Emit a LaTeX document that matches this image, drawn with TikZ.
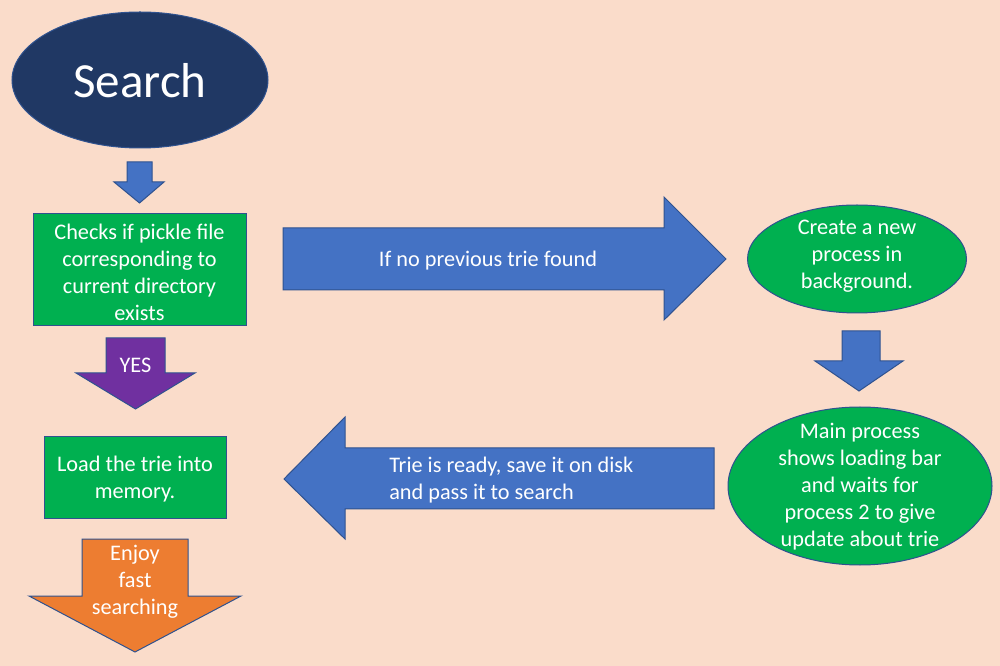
\documentclass[tikz,border=0pt]{standalone}
\usepackage{fontspec}
\setmainfont{Carlito}
\usetikzlibrary{shapes.geometric}
\definecolor{bgpeach}{HTML}{FADCCA}
\definecolor{navy}{HTML}{203864}
\definecolor{offblue}{HTML}{4472C4}
\definecolor{offgreen}{HTML}{00B050}
\definecolor{offpurple}{HTML}{7030A0}
\definecolor{offorange}{HTML}{ED7D31}
\definecolor{edgeblue}{HTML}{2F528F}
\begin{document}
\begin{tikzpicture}[x=0.75pt,y=-0.75pt,
  txt/.style={text=white,font=\fontsize{16.7}{20.3}\selectfont,align=center,inner sep=0pt},
  shapeline/.style={draw=edgeblue,line width=0.75pt},
  greenbox/.style={shapeline,fill=offgreen,rectangle,inner sep=0pt},
  greenell/.style={shapeline,fill=offgreen,ellipse,inner sep=0pt}]
\fill[bgpeach] (0,0) rectangle (1000,666);
\useasboundingbox (0,0) rectangle (1000,666);

% Search ellipse
\node[shapeline,fill=navy,ellipse,minimum width=256*0.75pt,minimum height=136*0.75pt,inner sep=0pt] (search) at (140,80) {};
\node[text=white,font=\fontsize{36.8}{44}\selectfont,inner sep=0pt] (searchtxt) at (140,81) {Search};

% small down arrow
\draw[shapeline,fill=offblue] (127,162) -- (152,162) -- (152,182) -- (164,182) -- (139.5,203) -- (114,182) -- (127,182) -- cycle;

% check box
\node[greenbox,minimum width=213*0.75pt,minimum height=112*0.75pt] (check) at (139.5,270) {};
\node[txt] (checktxt) at (139.5,272) {Checks if pickle file\\corresponding to\\current directory\\exists};

% YES arrow
\draw[shapeline,fill=offpurple] (106,338) -- (165,338) -- (165,373) -- (195,373) -- (135.5,409) -- (76,373) -- (106,373) -- cycle;
\node[txt] (yes) at (135.5,365) {YES};

% load box
\node[greenbox,minimum width=182*0.75pt,minimum height=82*0.75pt] (load) at (135,478) {};
\node[txt] (loadtxt) at (135,479.5) {Load the trie into\\memory.};

% orange arrow
\draw[shapeline,fill=offorange] (82,539) -- (188,539) -- (188,596) -- (241,596) -- (135,652) -- (29,596) -- (82,596) -- cycle;
\node[txt] (enjoy) at (135,582) {Enjoy\\fast\\searching};

% right arrow
\draw[shapeline,fill=offblue] (283,228) -- (664,228) -- (664,197) -- (726,259) -- (664,320) -- (664,290) -- (283,290) -- cycle;
\node[txt] (notrie) at (488,261) {If no previous trie found};

% create ellipse
\node[greenell,minimum width=219*0.75pt,minimum height=108*0.75pt] (create) at (857,259) {};
\node[txt] (createtxt) at (857,256) {Create a new\\process in\\background.};

% right down arrow
\draw[shapeline,fill=offblue] (842,331) -- (880,331) -- (880,361) -- (903,361) -- (859,391) -- (815,361) -- (842,361) -- cycle;

% main ellipse
\node[greenell,minimum width=264*0.75pt,minimum height=158*0.75pt] (main) at (860,486) {};
\node[txt] (maintxt) at (860,487) {Main process\\shows loading bar\\and waits for\\process 2 to give\\update about trie};

% left arrow
\draw[shapeline,fill=offblue] (714,448) -- (345,448) -- (345,417) -- (284,479) -- (345,539) -- (345,509) -- (714,509) -- cycle;
\node[txt,align=left,anchor=west] (ready) at (389,480.5) {Trie is ready, save it on disk\\and pass it to search};
\end{tikzpicture}
\end{document}
